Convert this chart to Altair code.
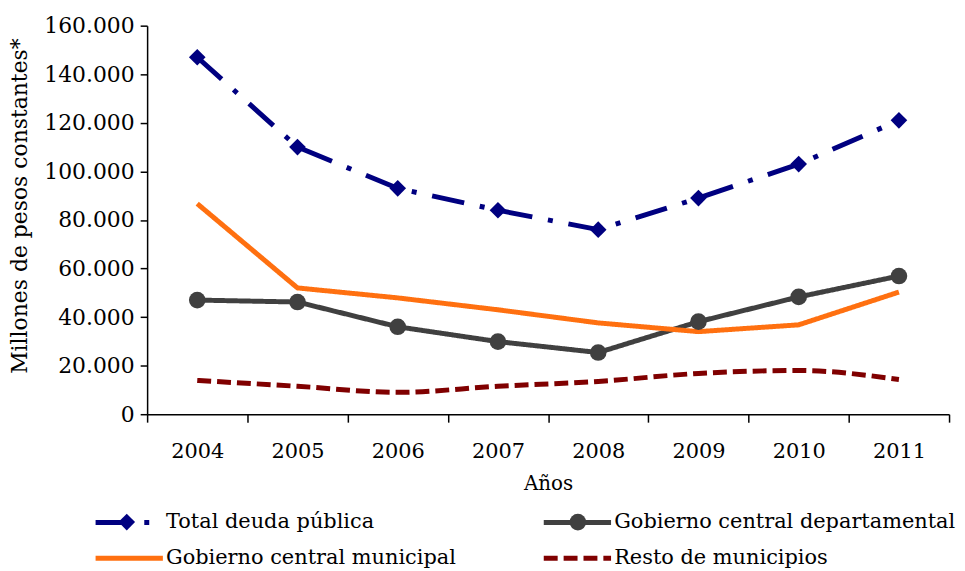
import altair as alt
import pandas as pd

years = ["2004", "2005", "2006", "2007", "2008", "2009", "2010", "2011"]
total = [147000, 110000, 93000, 84000, 76000, 89000, 103000, 121000]
dept = [47000, 46200, 36000, 29900, 25400, 38100, 48300, 56900]
muni = [86700, 52000, 47900, 43000, 37600, 34000, 36800, 50300]
resto = [13900, 11500, 9000, 11500, 13500, 16800, 18000, 14300]

series_names = ["Total deuda pública", "Gobierno central departamental",
                "Gobierno central municipal", "Resto de municipios"]
colors = ["#000080", "#404040", "#FF7010", "#800000"]
dashes = [[33, 16, 5, 16], [1, 0], [1, 0], [14, 6]]
widths = [5, 5, 4.5, 6]

rows = []
for name, vals in zip(series_names, [total, dept, muni, resto]):
    for y, v in zip(years, vals):
        rows.append({"year": y, "value": v, "serie": name, "serie_m": name})
df = pd.DataFrame(rows)

FONT = "DejaVu Serif"

leg_common = dict(orient="none", legendX=-29, legendY=489, columns=2,
                  direction="horizontal", symbolType="M-4.2,0L4.2,0", symbolSize=260,
                  labelFont=FONT, labelFontSize=21, labelColor="black",
                  labelLimit=400, columnPadding=78, rowPadding=15,
                  labelOffset=26, title=None)

x_enc = alt.X("year:O", title="Años", bandPosition=0.5,
              scale=alt.Scale(type="band", paddingInner=0, paddingOuter=0, domain=years),
              axis=alt.Axis(labelAngle=0, tickBand="extent", tickSize=8,
                            labelPadding=19, titlePadding=12))
y_enc = alt.Y("value:Q", title="Millones de pesos constantes*",
              scale=alt.Scale(domain=[0, 160000], nice=False),
              axis=alt.Axis(values=list(range(0, 160001, 20000)), grid=False,
                            labelExpr="replace(format(datum.value, ','), ',', '.')",
                            tickSize=7, labelPadding=6, titleFontSize=22, labelFontSize=22,
                            titleX=-128, titleY=181, titleBaseline="middle"))

color_enc = alt.Color("serie:N", scale=alt.Scale(domain=series_names, range=colors),
                      legend=alt.Legend(**leg_common))
dash_enc = alt.StrokeDash("serie:N", scale=alt.Scale(domain=series_names, range=dashes),
                          legend=alt.Legend(**leg_common))
width_enc = alt.StrokeWidth("serie:N", scale=alt.Scale(domain=series_names, range=widths),
                            legend=alt.Legend(**leg_common))

base = alt.Chart(df)

lines = base.transform_filter(
    alt.FieldOneOfPredicate(field="serie", oneOf=series_names[:3])
).mark_line(strokeCap="butt", strokeJoin="round").encode(
    x=x_enc, y=y_enc, color=color_enc, strokeDash=dash_enc, strokeWidth=width_enc)

smooth = base.transform_filter(
    alt.FieldEqualPredicate(field="serie", equal=series_names[3])
).mark_line(strokeCap="butt", interpolate="monotone").encode(
    x=x_enc, y=y_enc, color=color_enc, strokeDash=dash_enc, strokeWidth=width_enc)

leg_m = dict(orient="none", legendX=-29, legendY=491, columns=2,
             direction="horizontal", symbolSize=280, labelExpr="''",
             columnPadding=433, rowPadding=14, labelOffset=4, title=None,
             symbolStrokeWidth=0)

points = base.transform_filter(
    alt.FieldOneOfPredicate(field="serie_m", oneOf=series_names[:2])
).mark_point(filled=True, size=280, opacity=1, strokeWidth=0).encode(
    x=x_enc, y=y_enc,
    fill=alt.Fill("serie_m:N", scale=alt.Scale(domain=series_names[:2], range=colors[:2]),
                  legend=alt.Legend(**leg_m)),
    shape=alt.Shape("serie_m:N", scale=alt.Scale(domain=series_names[:2], range=["diamond", "circle"]),
                    legend=alt.Legend(**leg_m)),
)

chart = alt.layer(lines, smooth, points).properties(
    width=807, height=391,
    autosize=alt.AutoSizeParams(type="none"),
    padding={"left": 140, "top": 16, "right": 8, "bottom": 155},
).configure_view(stroke=None).configure_axis(
    labelFont=FONT, titleFont=FONT, labelFontSize=21, titleFontSize=20,
    labelColor="black", titleColor="black", domainColor="black", tickColor="black",
    domainWidth=1.5, tickWidth=1.5, titleFontWeight="normal",
)

chart.save("out.html", embed_options={"renderer": "svg", "actions": False})
